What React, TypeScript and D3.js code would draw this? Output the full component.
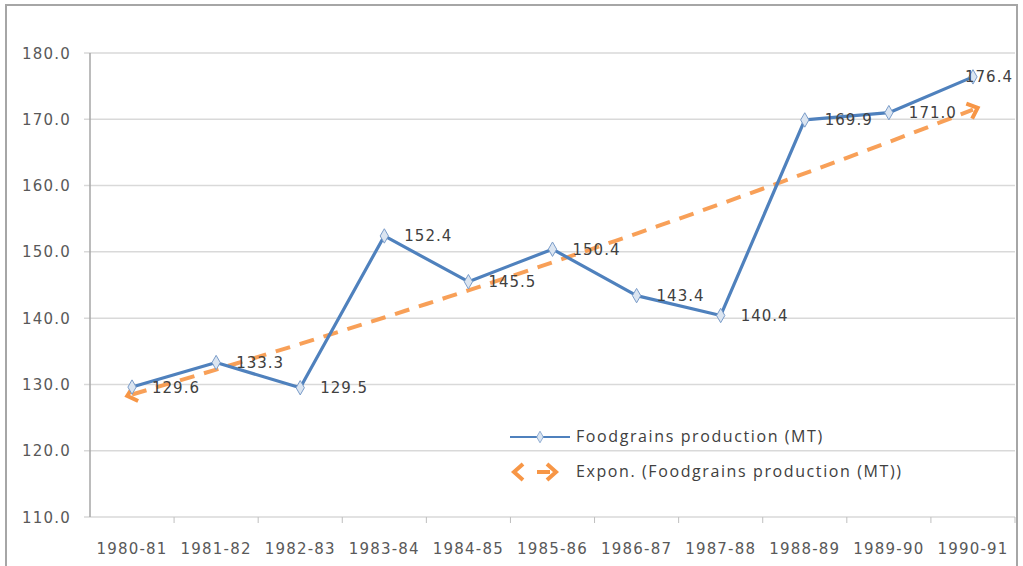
import React from "react";
import * as d3 from "d3";

const categories = ["1980-81","1981-82","1982-83","1983-84","1984-85","1985-86","1986-87","1987-88","1988-89","1989-90","1990-91"];
const production = [129.6, 133.3, 129.5, 152.4, 145.5, 150.4, 143.4, 140.4, 169.9, 171.0, 176.4];
const yTicks = [110, 120, 130, 140, 150, 160, 170, 180];
const seriesName = "Foodgrains production (MT)";
const trendName = "Expon. (Foodgrains production (MT))";

// Exponential least-squares fit (as in a spreadsheet trendline)
function expFit(vals: number[]) {
  const n = vals.length;
  const xs = vals.map((_, i) => i + 1);
  const ls = vals.map((v) => Math.log(v));
  const mx = d3.mean(xs)!;
  const ml = d3.mean(ls)!;
  let sxy = 0, sxx = 0;
  for (let i = 0; i < n; i++) { sxy += (xs[i] - mx) * (ls[i] - ml); sxx += (xs[i] - mx) ** 2; }
  const b = sxy / sxx;
  const a = ml - b * mx;
  return (x: number) => Math.exp(a + b * x);
}

export default function App() {
  const W = 1023, H = 566;
  const left = 90, right = 1015, top = 53, bottom = 517;
  const x = d3.scaleBand().domain(categories).range([left, right]);
  const y = d3.scaleLinear().domain([110, 180]).range([bottom, top]);
  const cx = (i: number) => x(categories[i])! + x.bandwidth() / 2;
  const line = d3.line<number>().x((_, i) => cx(i)).y((d) => y(d));
  const f = expFit(production);
  const trendPts = d3.range(1, 11.001, 0.25).map((t) => [cx(0) + (t - 1) * x.bandwidth(), y(f(t))] as [number, number]);
  const trendPath = d3.line()(trendPts)!;
  const start = trendPts[0], s2 = trendPts[1];
  const end = trendPts[trendPts.length - 1], e2 = trendPts[trendPts.length - 2];
  const angStart = Math.atan2(start[1] - s2[1], start[0] - s2[0]) * 180 / Math.PI;
  const angEnd = Math.atan2(end[1] - e2[1], end[0] - e2[0]) * 180 / Math.PI;
  const orange = "#F79646";
  const blue = "#4F81BD";
  const font = "'DejaVu Sans', Verdana, sans-serif";
  const lfont = "'Open Sans', 'DejaVu Sans', sans-serif";
  const diamond = d3.symbol().type(d3.symbolDiamond).size(60)()!;
  const chevron = "M-4,-8 L5,0 L-4,8";
  const labelW = 50;

  return (
    <svg width={W} height={H} style={{ position: "absolute", left: 0, top: 0, background: "#fff" }}>
      <rect x={6} y={5} width={1011} height={570} fill="#fff" stroke="#a6a6a6" strokeWidth={2} />
      {yTicks.map((t) => (
        <g key={t}>
          <line x1={left - 6} x2={right} y1={y(t)} y2={y(t)} stroke="#d9d9d9" strokeWidth={1.5} />
          <text x={71} y={y(t) + 5.5} textAnchor="end" fontSize={15} letterSpacing={1.2} fill="#595959" fontFamily={font}>{t.toFixed(1)}</text>
        </g>
      ))}
      <line x1={left} x2={left} y1={top} y2={bottom} stroke="#a6a6a6" strokeWidth={1.5} />
      {categories.map((c, i) => (
        <g key={c}>
          <line x1={x(c)! + x.bandwidth()} x2={x(c)! + x.bandwidth()} y1={bottom} y2={bottom + 6} stroke="#bfbfbf" />
          <text x={cx(i)} y={554} textAnchor="middle" fontSize={15} letterSpacing={1.2} fill="#595959" fontFamily={font}>{c}</text>
        </g>
      ))}
      <path d={trendPath} fill="none" stroke={orange} strokeWidth={4} strokeDasharray="15,10" opacity={0.9} />
      <path d={chevron} transform={`translate(${start[0]},${start[1]}) rotate(${angStart})`} fill="none" stroke={orange} strokeWidth={4} />
      <path d={chevron} transform={`translate(${end[0]},${end[1]}) rotate(${angEnd})`} fill="none" stroke={orange} strokeWidth={4} />
      <path d={line(production)!} fill="none" stroke={blue} strokeWidth={3.2} strokeLinejoin="round" />
      {production.map((v, i) => {
        const lx = Math.min(cx(i) + 20, right - labelW);
        return (
          <g key={i}>
            <path d={diamond} transform={`translate(${cx(i)},${y(v)})`} fill="#dbe5f1" stroke="#7a9cc9" strokeWidth={1} />
            <text x={lx} y={y(v) + 5.5} fontSize={15} letterSpacing={1} fill="#404040" fontFamily={font}>{v.toFixed(1)}</text>
          </g>
        );
      })}
      <g>
        <line x1={510} x2={570} y1={437} y2={437} stroke={blue} strokeWidth={2} />
        <path d={diamond} transform="translate(540,437) scale(0.8)" fill="#dbe5f1" stroke="#7a9cc9" />
        <text x={576} y={442} fontSize={16} letterSpacing={1.6} fill="#404040" fontFamily={lfont}>{seriesName}</text>
        <path d={chevron} transform="translate(519,472) rotate(180)" fill="none" stroke={orange} strokeWidth={4} />
        <path d={chevron} transform="translate(551,472)" fill="none" stroke={orange} strokeWidth={4} />
        <line x1={537} x2={550} y1={472} y2={472} stroke={orange} strokeWidth={4} />
        <text x={576} y={477} fontSize={16} letterSpacing={1.6} fill="#404040" fontFamily={lfont}>{trendName}</text>
      </g>
    </svg>
  );
}
